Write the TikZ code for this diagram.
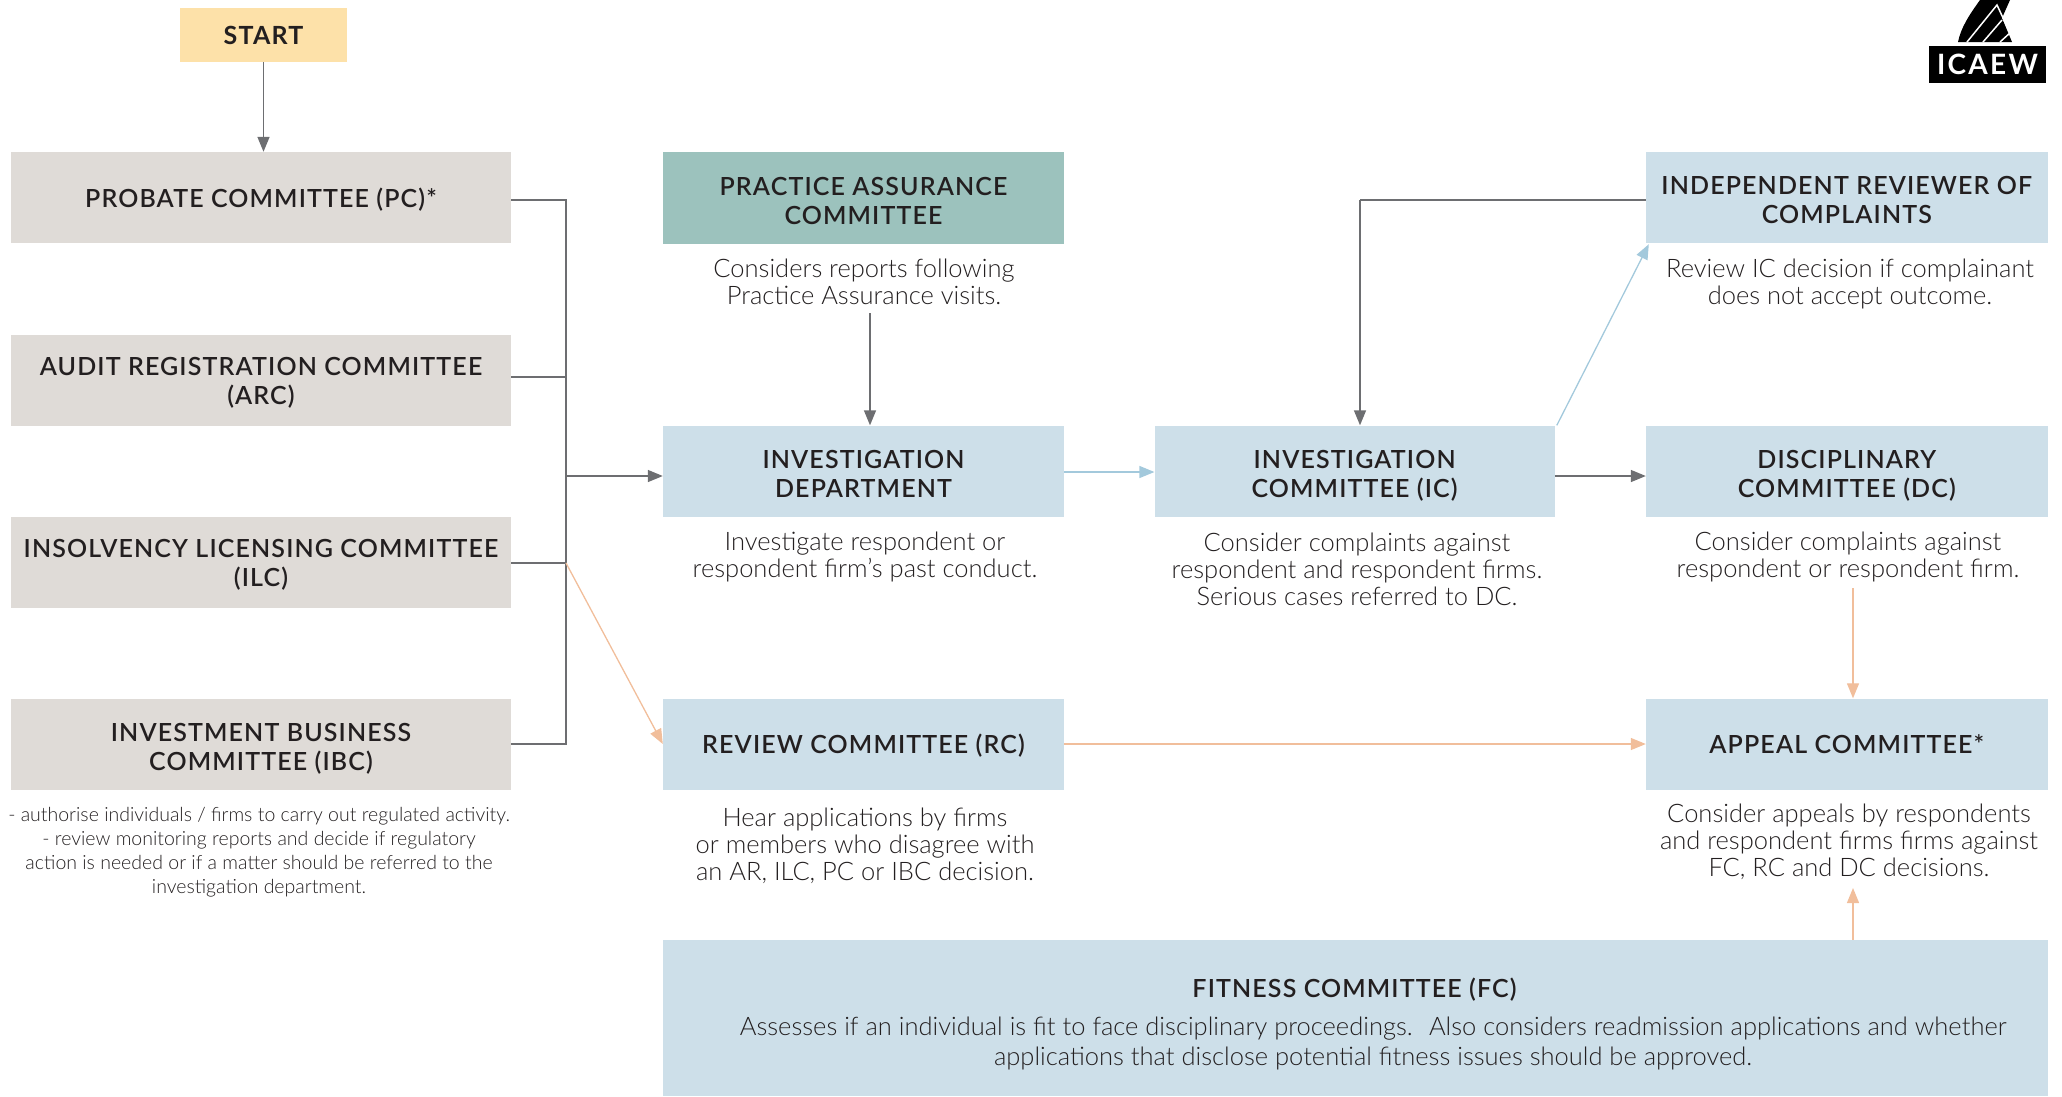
\documentclass[tikz,border=0pt]{standalone}
\usepackage{fontspec}
\usetikzlibrary{arrows.meta}
\setmainfont{Lato Light}
\newfontfamily\headfont[LetterSpace=4.5]{Lato Semibold}
\newfontfamily\startfont[LetterSpace=5]{Lato Bold}
\newfontfamily\logofont[LetterSpace=8]{Lato Bold}
\definecolor{startcol}{HTML}{FDE1A9}
\definecolor{greycol}{HTML}{DFDBD7}
\definecolor{tealcol}{HTML}{9CC2BD}
\definecolor{bluecol}{HTML}{CDDFE9}
\definecolor{linecol}{HTML}{6D6E71}
\definecolor{bluearr}{HTML}{A3C9DC}
\definecolor{orangearr}{HTML}{F1BE9B}
\definecolor{inkcol}{HTML}{231F20}
\begin{document}
\begin{tikzpicture}[
	x=1pt, y=-1pt,
	box/.style={
		rectangle,
		align=center,
		inner sep=0pt,
		text depth=0pt,
		minimum height=91pt,
		minimum width=401pt,
		text=inkcol,
		font=\headfont\fontsize{25}{29}\selectfont
	},
	committee/.style={box, fill=greycol, minimum width=500pt},
	dept/.style={box, fill=bluecol},
	low/.style={text height=52pt},
	info/.style={
		align=center,
		inner sep=0pt,
		text depth=0pt,
		text=inkcol,
		font=\fontsize{25.5}{27}\selectfont
	},
	grey arr/.style={draw=linecol, line width=1.5pt, -{Triangle[length=15pt,width=12pt]}},
	grey line/.style={draw=linecol, line width=1.5pt},
	blue arr/.style={draw=bluearr, line width=1.3pt, -{Triangle[length=15pt,width=12pt]}},
	orange arr/.style={draw=orangearr, line width=1.3pt, -{Triangle[length=15pt,width=12pt]}},
]
\useasboundingbox (0,0) rectangle (2062,1096);

\node[box, fill=startcol, minimum width=167pt, minimum height=54pt, font=\startfont\fontsize{25}{29}\selectfont] (start) at (263.5,35) {START};

% left column
\node[committee] (pc) at (261,197.5) {PROBATE COMMITTEE (PC)*};
\node[committee, text height=48pt] (arc) at (261,380) {AUDIT REGISTRATION COMMITTEE \\ (ARC)};
\node[committee] (ilc) at (261,562.5) {INSOLVENCY LICENSING COMMITTEE \\ (ILC)};
\node[committee, low] (ibc) at (261,744.5) {INVESTMENT BUSINESS \\ COMMITTEE (IBC)};
\node[info, font=\fontsize{19.5}{24}\selectfont] (ibctext) at (259,850) {- authorise individuals / firms to carry out regulated activity. \\ - review monitoring reports and decide if regulatory \\ action is needed or if a matter should be referred to the \\ investigation department.};

% middle column
\node[box, low, fill=tealcol, minimum height=92pt] (pac) at (863.5,198) {PRACTICE ASSURANCE \\ COMMITTEE};
\node[info] (pactext) at (864,282) {Considers reports following \\ Practice Assurance visits.};
\node[dept, low] (id) at (863.5,471) {INVESTIGATION \\ DEPARTMENT};
\node[info] (idtext) at (865,555) {Investigate respondent or \\ respondent firm’s past conduct.};
\node[dept] (rc) at (863.5,744) {REVIEW COMMITTEE (RC)};
\node[info] (rctext) at (865,844) {Hear applications by firms \\ or members who disagree with \\ an AR, ILC, PC or IBC decision.};

\node[dept, low, minimum width=400pt] (ic) at (1354.6,471) {INVESTIGATION \\ COMMITTEE (IC)};
\node[info] (ictext) at (1357,569) {Consider complaints against \\ respondent and respondent firms. \\ Serious cases referred to DC.};

% right column
\node[dept, low, minimum width=401.6pt] (ir) at (1846.8,197.5) {INDEPENDENT REVIEWER OF \\ COMPLAINTS};
\node[info] (irtext) at (1850,282) {Review IC decision if complainant \\ does not accept outcome.};
\node[dept, low, minimum width=401.6pt] (dc) at (1846.8,471) {DISCIPLINARY \\ COMMITTEE (DC)};
\node[info] (dctext) at (1848,555) {Consider complaints against \\ respondent or respondent firm.};
\node[dept, minimum width=401.6pt] (ac) at (1846.8,744) {APPEAL COMMITTEE*};
\node[info] (actext) at (1849,840) {Consider appeals by respondents \\ and respondent firms firms against \\ FC, RC and DC decisions.};

\node[rectangle, fill=bluecol, minimum width=1384.6pt, minimum height=156pt] (fc) at (1355.3,1018) {};
\node[box, minimum height=0pt, minimum width=0pt] (fchead) at (1354.5,988) {FITNESS COMMITTEE (FC)};
\node[info, font=\fontsize{25.5}{30}\selectfont] (fctext) at (1373,1041) {Assesses if an individual is fit to face disciplinary proceedings.~ Also considers readmission applications and whether \\ applications that disclose potential fitness issues should be approved.};

% logo
\node[rectangle, fill=black, minimum width=117pt, minimum height=37pt, inner sep=0pt, text=white, font=\logofont\fontsize{28}{28}\selectfont] (logo) at (1987.5,64.5) {ICAEW};
\fill[black] (1958,42) .. controls (1961,27) and (1970,14) .. (1980,0) -- (2010,0) -- (2002,18) -- (2012,42) -- cycle;
\draw[white, line width=1.5pt] (1967,42) -- (1997,5) -- (2010,33);
\draw[white, line width=1.5pt] (1983,42) -- (2002,20);
\draw[white, line width=1.5pt] (2000,42) -- (2011,32);

% connectors
\coordinate (bustop) at (566,200);
\coordinate (busarc) at (566,377);
\coordinate (busilc) at (566,563);
\coordinate (busid) at (566,476);
\coordinate (busbot) at (566,744);
\coordinate (irturn) at (1360,200);
\coordinate (pacout) at (870,313);
\coordinate (dcout) at (1853,588);
\coordinate (acin) at (1853,888);

\draw[grey arr] (start.south) -- (start.south |- pc.north);
\draw[grey line] (pc.east |- bustop) -- (bustop) -- (busbot) -- (ibc.east |- busbot);
\draw[grey line] (arc.east |- busarc) -- (busarc);
\draw[grey line] (ilc.east |- busilc) -- (busilc);
\draw[grey arr] (busid) -- (id.west |- busid);
\draw[orange arr] (busilc) -- (rc.west);
\draw[grey arr] (pacout) -- (pacout |- id.north);
\draw[blue arr] ([yshift=-1pt]id.east) -- ([yshift=-1pt]ic.west);
\draw[grey arr] ([yshift=-5pt]ic.east) -- ([yshift=-5pt]dc.west);
\draw[grey line] (ir.west |- irturn) -- (irturn);
\draw[grey arr] (irturn) -- (irturn |- ic.north);
\draw[blue arr] ([xshift=2pt]ic.north east) -- ([xshift=3pt,yshift=-1pt]ir.south west);
\draw[orange arr] (rc.east) -- (ac.west);
\draw[orange arr] (dcout) -- (dcout |- ac.north);
\draw[orange arr] (acin |- fc.north) -- (acin);
\end{tikzpicture}
\end{document}
